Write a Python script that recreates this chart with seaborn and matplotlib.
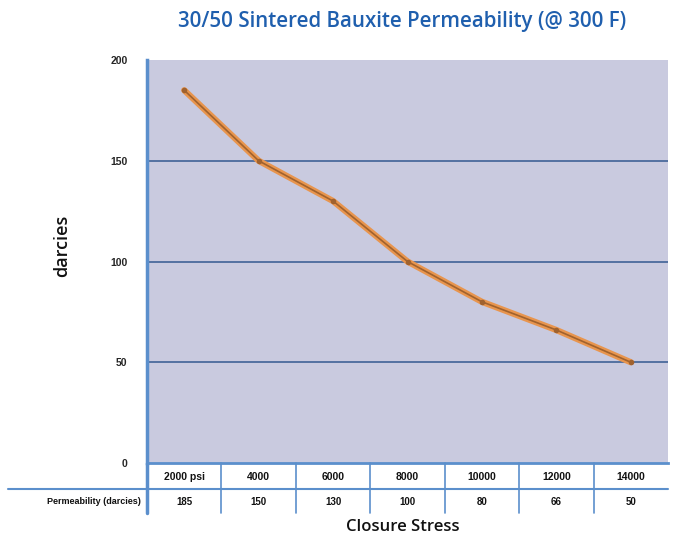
import numpy as np
import pandas as pd
import matplotlib
matplotlib.use("Agg")
import matplotlib.pyplot as plt
import seaborn as sns

categories = ["2000 psi", "4000", "6000", "8000", "10000", "12000", "14000"]
permeability = [185, 150, 130, 100, 80, 66, 50]
table_values = ["185", "150", "130", "100", "80", "66", "50"]
y_ticks = [0, 50, 100, 150, 200]

sns.set_theme(style="white")
plt.rcParams['font.family'] = ['Liberation Sans', 'DejaVu Sans']

W, H = 679, 541
fig = plt.figure(figsize=(W / 100, H / 100), dpi=100)
L, R, T, B = 147, 668, 60, 463
ax = fig.add_axes([L / W, 1 - B / H, (R - L) / W, (B - T) / H])
ax.set_facecolor("#c9cadf")

df = pd.DataFrame({"stress": categories, "perm": permeability})
sns.lineplot(data=df, x="stress", y="perm", ax=ax, color="#e8954e", lw=4.5,
             sort=False, zorder=3)
sns.lineplot(data=df, x="stress", y="perm", ax=ax, color="#a0622e", lw=1.2,
             marker="o", markersize=4, markeredgewidth=0, sort=False, zorder=4)

ax.set_xlim(-0.5, len(categories) - 0.5)
ax.set_ylim(0, 200)
ax.set_yticks(y_ticks)
ax.set_yticklabels([str(v) for v in y_ticks], fontsize=7.5, fontweight="bold")
ax.tick_params(axis="y", length=0, pad=14)
ax.set_xticks([])
ax.set_xlabel("")
ax.set_ylabel("")
for v in y_ticks[1:-1]:
    ax.axhline(v, color="#4a6a9c", lw=1.3, zorder=2)

for s in ["top", "right"]:
    ax.spines[s].set_visible(False)
ax.spines["left"].set_color("#5b8fcc")
ax.spines["left"].set_linewidth(2.5)
ax.spines["bottom"].set_color("#5b8fcc")
ax.spines["bottom"].set_linewidth(2)

# table below the plot
trans = ax.get_xaxis_transform()
def yax(py):
    return (B - py) / (B - T)

n = len(categories)
for i, (c, v) in enumerate(zip(categories, table_values)):
    ax.text(i, yax(477), c, transform=trans, ha="center", va="center",
            fontsize=7.5, fontweight="bold", color="#111111")
    ax.text(i, yax(502), v, transform=trans, ha="center", va="center",
            fontsize=7, fontweight="bold", color="#111111")
for k in range(n):
    ax.plot([k - 0.5, k - 0.5], [yax(463), yax(513)], transform=trans,
            color="#5b8fcc", lw=2.5 if k == 0 else 1.2, clip_on=False)
fig.add_artist(plt.Line2D([8 / W, R / W], [1 - 489 / H, 1 - 489 / H],
                          color="#5b8fcc", lw=1.5))
fig.text(141 / W, 1 - 502 / H, "Permeability (darcies)", ha="right",
         va="center", fontsize=6.5, fontweight="bold", color="#111111")

fig.text(403 / W, 1 - 527 / H, "Closure Stress", ha="center", va="center",
         fontsize=12, fontweight="semibold", color="#111111",
         family=["Open Sans", "DejaVu Sans"])
fig.text(62 / W, 1 - 246 / H, "darcies", ha="center", va="center",
         rotation=90, fontsize=13, fontweight="semibold", color="#111111",
         family=["Open Sans", "DejaVu Sans"])
fig.text(402 / W, 1 - 22 / H, "30/50 Sintered Bauxite Permeability (@ 300 F)",
         ha="center", va="center", fontsize=14.8, fontweight="semibold",
         color="#1f5fae", family=["Open Sans", "DejaVu Sans"])

fig.savefig("out.png", dpi=100)
